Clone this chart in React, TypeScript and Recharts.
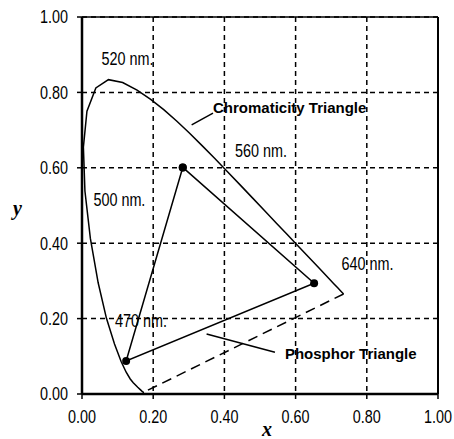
import React from 'react';
import { ScatterChart, Scatter, XAxis, YAxis, CartesianGrid, ReferenceLine } from 'recharts';

// CIE 1931 spectral locus (x, y) as seen in the picture
const locusX = [0.1741, 0.1733, 0.1726, 0.1714, 0.1689, 0.1644, 0.1566, 0.144, 0.1355, 0.1241, 0.1096, 0.0913, 0.0687, 0.0454, 0.0235, 0.0082, 0.0039, 0.0139, 0.0389, 0.0743, 0.1142, 0.1547, 0.1929, 0.2296, 0.2658, 0.3016, 0.3373, 0.3731, 0.4087, 0.4441, 0.4788, 0.5125, 0.5448, 0.5752, 0.6029, 0.627, 0.6658, 0.6915, 0.7079, 0.719, 0.726, 0.73, 0.7334, 0.7347];
const locusY = [0.005, 0.0048, 0.0048, 0.0051, 0.0069, 0.0109, 0.0177, 0.0297, 0.0399, 0.0578, 0.0868, 0.1327, 0.2007, 0.295, 0.4127, 0.5384, 0.6548, 0.7502, 0.812, 0.8338, 0.8262, 0.8059, 0.7816, 0.7543, 0.7243, 0.6923, 0.6589, 0.6245, 0.5896, 0.5547, 0.5202, 0.4866, 0.4544, 0.4242, 0.3965, 0.3725, 0.334, 0.3083, 0.292, 0.2809, 0.274, 0.27, 0.2666, 0.2653];

// closing (purple) line, dashed
const purpleX = [0.7347, 0.1741];
const purpleY = [0.2653, 0.005];

// phosphor triangle vertices: green, red, blue, back to green
const phosphorX = [0.283, 0.652, 0.124, 0.283];
const phosphorY = [0.601, 0.294, 0.0875, 0.601];

// wavelength labels
const nmText = ['520 nm.', '560 nm.', '500 nm.', '470 nm.', '640 nm.'];
const nmX = [0.055, 0.43, 0.032, 0.093, 0.729];
const nmY = [0.891, 0.647, 0.515, 0.194, 0.347];

// callouts
const calloutText = ['Chromaticity Triangle', 'Phosphor Triangle'];
const calloutX = [0.368, 0.57];
const calloutY = [0.759, 0.106];
const leaderChromX = [0.308, 0.368];
const leaderChromY = [0.714, 0.745];
const leaderPhosX = [0.35, 0.542];
const leaderPhosY = [0.159, 0.111];

const ticks = [0, 0.2, 0.4, 0.6, 0.8, 1.0];

const zip = (xs: number[], ys: number[]) => xs.map((x, i) => ({ x, y: ys[i] }));
const locusData = zip(locusX, locusY);
const purpleData = zip(purpleX, purpleY);
const phosphorData = zip(phosphorX, phosphorY);
const nmData = nmX.map((x, i) => ({ x, y: nmY[i], text: nmText[i] }));
const calloutData = calloutX.map((x, i) => ({ x, y: calloutY[i], text: calloutText[i] }));
const leaderChrom = zip(leaderChromX, leaderChromY);
const leaderPhos = zip(leaderPhosX, leaderPhosY);

const SANS = '"Liberation Sans", Arial, sans-serif';
const TITLE = '"Liberation Serif", "DejaVu Serif", serif';
const NARROW_SCALE = 0.8;

const Empty = () => <g />;
const Dot = (p: any) => <circle cx={p.cx} cy={p.cy} r={4} fill="#000" />;

const NarrowText = ({ x, y, anchor, dy, children }: any) => (
  <text
    transform={`translate(${x},${y}) scale(${NARROW_SCALE},1)`}
    x={0}
    y={0}
    dy={dy}
    textAnchor={anchor}
    fontFamily={SANS}
    fontSize={18}
    fill="#000"
  >
    {children}
  </text>
);

const NmLabel = (p: any) => (
  <NarrowText x={p.cx} y={p.cy} anchor="start" dy="0.36em">
    {p.payload.text}
  </NarrowText>
);
const CalloutLabel = (p: any) => (
  <text x={p.cx} y={p.cy} dy="0.36em" fontFamily={SANS} fontWeight="bold" fontSize={15} fill="#000">
    {p.payload.text}
  </text>
);
const XTick = (p: any) => (
  <NarrowText x={p.x} y={p.y} anchor="middle" dy="0.71em">
    {Number(p.payload.value).toFixed(2)}
  </NarrowText>
);
const YTick = (p: any) => (
  <NarrowText x={p.x} y={p.y} anchor="end" dy="0.36em">
    {Number(p.payload.value).toFixed(2)}
  </NarrowText>
);

export default function App() {
  return (
    <div style={{ position: 'absolute', left: 0, top: 0, background: '#fff' }}>
      <ScatterChart width={454} height={439} margin={{ top: 17, right: 16, left: 0, bottom: 0 }}>
        <CartesianGrid stroke="#000" strokeWidth={1.5} strokeDasharray="5 4" />
        <XAxis
          type="number"
          dataKey="x"
          domain={[0, 1]}
          ticks={ticks}
          height={45}
          tick={XTick}
          tickSize={5}
          tickMargin={11}
          tickLine={{ stroke: '#000', strokeWidth: 1.5 }}
          axisLine={{ stroke: '#000', strokeWidth: 2.5 }}
          label={{ value: 'x', position: 'insideBottom', offset: 3, dx: 7, fontFamily: TITLE, fontSize: 20, fontWeight: 'bold', fontStyle: 'italic', fill: '#000' }}
        />
        <YAxis
          type="number"
          dataKey="y"
          domain={[0, 1]}
          ticks={ticks}
          width={82}
          tick={YTick}
          tickSize={5}
          tickMargin={9}
          tickLine={{ stroke: '#000', strokeWidth: 1.5 }}
          axisLine={{ stroke: '#000', strokeWidth: 2.5 }}
          label={{ value: 'y', position: 'insideLeft', offset: 13, dy: 2, fontFamily: TITLE, fontSize: 20, fontWeight: 'bold', fontStyle: 'italic', fill: '#000' }}
        />
        <ReferenceLine y={1} stroke="#000" strokeWidth={1.5} />
        <ReferenceLine x={1} stroke="#000" strokeWidth={2} />
        <Scatter data={locusData} line={{ stroke: '#000', strokeWidth: 1.5 }} shape={Empty} isAnimationActive={false} />
        <Scatter data={purpleData} line={{ stroke: '#000', strokeWidth: 1.5, strokeDasharray: '10 6' }} shape={Empty} isAnimationActive={false} />
        <Scatter data={phosphorData} line={{ stroke: '#000', strokeWidth: 1.5 }} shape={Dot} isAnimationActive={false} />
        <Scatter data={leaderChrom} line={{ stroke: '#000', strokeWidth: 1.5 }} shape={Empty} isAnimationActive={false} />
        <Scatter data={leaderPhos} line={{ stroke: '#000', strokeWidth: 1.5 }} shape={Empty} isAnimationActive={false} />
        <Scatter data={nmData} shape={NmLabel} isAnimationActive={false} />
        <Scatter data={calloutData} shape={CalloutLabel} isAnimationActive={false} />
      </ScatterChart>
    </div>
  );
}
